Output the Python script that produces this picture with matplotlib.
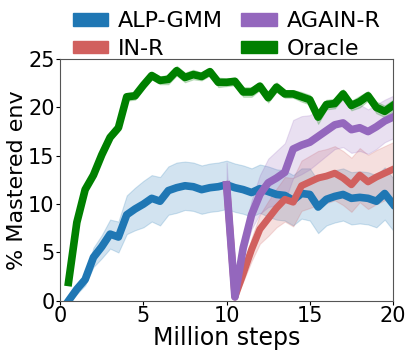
import numpy as np
import matplotlib
matplotlib.use("Agg")
import matplotlib.pyplot as plt
from matplotlib.patches import Patch

# x en millions de pas (tous les 0.5M)
x_full = np.arange(0.5, 20.01, 0.5)
x_ft = np.arange(10.0, 20.01, 0.5)

oracle = [1.9, 8.1, 11.5, 13.0, 15.1, 16.9, 17.9, 21.1, 21.2, 22.3,
          23.3, 22.8, 22.9, 23.8, 23.1, 23.4, 23.2, 23.7, 22.6, 22.6,
          22.7, 21.6, 21.6, 22.2, 21.0, 22.1, 21.4, 21.4, 21.1, 20.8,
          19.0, 20.3, 20.4, 21.4, 20.2, 20.6, 21.2, 20.0, 19.6, 20.2]
oracle_sd = [0.2, 0.3, 0.3, 0.3, 0.3, 0.3, 0.4, 0.4, 0.4, 0.4,
             0.4, 0.4, 0.5, 0.5, 0.5, 0.5, 0.4, 0.4, 0.5, 0.4,
             0.4, 0.5, 0.5, 0.4, 0.5, 0.5, 0.4, 0.4, 0.5, 0.5,
             0.7, 0.5, 0.5, 0.5, 0.5, 0.6, 0.5, 0.6, 0.6, 0.6]

alp_gmm = [0.0, 1.2, 2.2, 4.5, 5.6, 6.9, 6.6, 8.9, 9.5, 10.0,
           10.6, 10.3, 11.4, 11.7, 11.9, 11.8, 11.5, 11.7, 11.8, 12.0,
           11.7, 11.5, 11.2, 11.6, 11.3, 11.0, 10.9, 10.4, 11.1, 11.0,
           9.7, 10.5, 10.8, 11.0, 10.6, 10.7, 10.6, 10.3, 11.1, 10.0]
alp_gmm_sd = [0.2, 0.5, 0.6, 1.0, 1.2, 1.5, 1.6, 2.0, 2.2, 2.4,
              2.4, 2.5, 2.5, 2.6, 2.5, 2.5, 2.5, 2.5, 2.5, 2.5,
              2.5, 2.5, 2.5, 2.5, 2.6, 2.6, 2.6, 2.6, 2.6, 2.7,
              2.7, 2.7, 2.7, 2.7, 2.7, 2.7, 2.7, 2.7, 2.7, 2.7]

in_r = [12.0, 0.4, 2.8, 5.3, 7.4, 8.5, 9.6, 10.5, 10.2, 11.9,
        12.3, 12.7, 12.9, 13.2, 12.7, 12.0, 13.0, 12.3, 12.8, 13.2, 13.6]
in_r_sd = [0.5, 0.3, 0.8, 1.2, 1.5, 1.8, 2.0, 2.3, 2.5, 2.6,
           2.7, 2.8, 2.8, 2.8, 2.8, 2.8, 2.8, 2.8, 2.8, 2.8, 2.8]

again_r = [12.0, 0.4, 5.5, 8.9, 11.0, 12.2, 12.7, 13.3, 15.7, 16.1,
           16.4, 17.0, 17.6, 18.2, 18.4, 17.7, 17.9, 17.5, 18.0, 18.6, 19.0]
again_r_sd = [2.3, 0.3, 1.0, 1.5, 2.0, 2.5, 2.8, 3.0, 3.0, 3.0,
              2.8, 2.7, 2.6, 2.5, 2.5, 2.4, 2.4, 2.3, 2.3, 2.2, 2.2]

c_blue = "#1f77b4"
c_red = "#d1605e"
c_purple = "#9467bd"
c_green = "green"

fig = plt.figure(figsize=(4.15, 3.56), dpi=100)
ax = fig.add_axes([0.145, 0.155, 0.802, 0.679])

def courbe(x, y, sd, cor, lw=5):
    y = np.array(y)
    sd = np.array(sd)
    ax.fill_between(x, y - sd, y + sd, color=cor, alpha=0.2, linewidth=0.8)
    ax.plot(x, y, color=cor, linewidth=lw)

courbe(x_full, alp_gmm, alp_gmm_sd, c_blue, 5.5)
courbe(x_ft, in_r, in_r_sd, c_red)
courbe(x_ft, again_r, again_r_sd, c_purple, 5.5)
courbe(x_full, oracle, oracle_sd, c_green, 5.5)

ax.set_xlim(0, 20)
ax.set_ylim(0, 25)
ax.set_xticks([0, 5, 10, 15, 20])
ax.set_yticks([0, 5, 10, 15, 20, 25])
ax.tick_params(labelsize=15, length=3, pad=1)
for s in ax.spines.values():
    s.set_color("#555555")
ax.set_xlabel("Million steps", fontsize=17, labelpad=0)
ax.set_ylabel("% Mastered env", fontsize=16, labelpad=1)

handles = [Patch(color=c_blue), Patch(color=c_red),
           Patch(color=c_purple), Patch(color=c_green)]
labels = ["ALP-GMM", "IN-R", "AGAIN-R", "Oracle"]
ax.legend(handles, labels, ncol=2, loc="lower center", bbox_to_anchor=(0.5, 0.95),
          frameon=False, fontsize=16, handlelength=1.6, handleheight=0.5,
          labelspacing=0.35, columnspacing=0.8, handletextpad=0.45, borderpad=0.05)

plt.savefig("out.png", dpi=100)
